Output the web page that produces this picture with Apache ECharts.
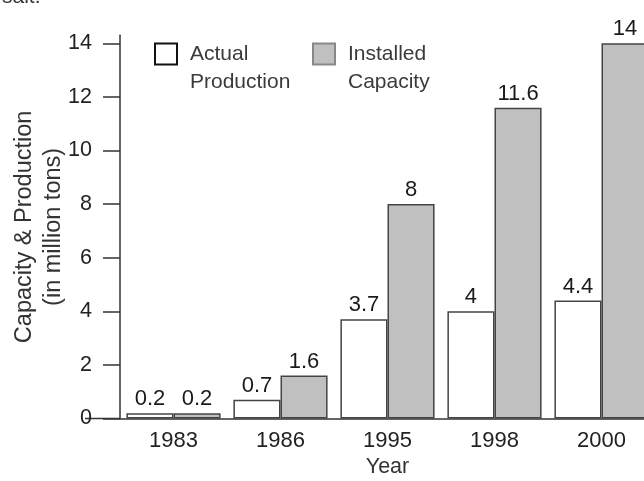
<!DOCTYPE html>
<html><head><meta charset="utf-8">
<script src="https://cdn.jsdelivr.net/npm/echarts@6/dist/echarts.min.js"></script>
<style>html,body{margin:0;padding:0;background:#fff}#c{width:644px;height:481px}</style>
</head><body><div id="c"></div>
<script>
const categories = ['1983', '1986', '1995', '1998', '2000'];
const actualProduction = [0.2, 0.7, 3.7, 4, 4.4];
const installedCapacity = [0.2, 1.6, 8, 11.6, 14];
const yTicks = [0, 2, 4, 6, 8, 10, 12, 14];
const seriesNames = ['Actual\nProduction', 'Installed\nCapacity'];

const font = '"Liberation Sans", Arial, sans-serif';
const gridLeft = 120;
const chart = echarts.init(document.getElementById('c'), null, {renderer: 'canvas'});
const legendText = {fontFamily: font, fontSize: 21, color: '#3a3a3a', lineHeight: 28, padding: [0, 0, 0, 8]};
const axisColor = '#333';
const labelStyle = {fontFamily: font, fontSize: 22, color: '#1a1a1a'};

const option = {
  animation: false,
  backgroundColor: '#fff',
  title: {text: 'salt.', left: -3, top: -18, textStyle: {fontFamily: font, fontSize: 21, fontWeight: 'normal', color: '#333'}},
  grid: {left: gridLeft, top: 35.3, width: 535, height: 383.2, outerBoundsMode: 'none', containLabel: false},
  legend: [
    {data: [{name: seriesNames[0], itemStyle: {color: '#fff', borderColor: '#111', borderWidth: 2}}],
     left: 154, top: 12, padding: 0, itemWidth: 22, itemHeight: 21, icon: 'rect', textStyle: legendText,
     formatter: n => '\n' + n, selectedMode: false},
    {data: [{name: seriesNames[1], itemStyle: {color: '#c0c0c0', borderColor: '#888', borderWidth: 2}}],
     left: 312, top: 12, padding: 0, itemWidth: 22, itemHeight: 21, icon: 'rect', textStyle: legendText,
     formatter: n => '\n' + n, selectedMode: false}
  ],
  xAxis: {
    type: 'category', data: categories,
    axisLine: {lineStyle: {color: axisColor, width: 1.5}},
    axisTick: {length: 17, lineStyle: {color: axisColor, width: 1.5}},
    axisLabel: {fontFamily: font, fontSize: 22, color: '#222', margin: 11},
    name: 'Year', nameLocation: 'middle', nameGap: 38, nameMoveOverlap: false,
    nameTextStyle: {fontFamily: font, fontSize: 21.5, color: '#333'}
  },
  yAxis: {
    type: 'value', min: 0, max: 14.3,
    axisLine: {show: true, lineStyle: {color: axisColor, width: 1.5}},
    axisTick: {show: true, length: 17, customValues: yTicks, lineStyle: {color: axisColor, width: 1.5}},
    axisLabel: {customValues: yTicks, margin: 28, fontFamily: font, fontSize: 21.5, color: '#222'},
    splitLine: {show: false},
    name: 'Capacity & Production\n(in million tons)', nameLocation: 'middle', nameRotate: 90, nameGap: 52,
    nameMoveOverlap: false,
    nameTextStyle: {fontFamily: font, fontSize: 23.5, color: '#333', lineHeight: 29}
  },
  series: [
    {name: seriesNames[0], type: 'bar', data: actualProduction, barWidth: '44%', barGap: '0%',
     itemStyle: {color: '#fff', borderColor: '#444', borderWidth: 1.5},
     label: {show: true, position: 'top', distance: 3, ...labelStyle}},
    {name: seriesNames[1], type: 'bar', data: installedCapacity, barWidth: '44%', barGap: '0%',
     itemStyle: {color: '#c0c0c0', borderColor: '#444', borderWidth: 1.5},
     label: {show: true, position: 'top', distance: 3, ...labelStyle}}
  ]
};
chart.setOption(option);
const y0 = chart.convertToPixel({yAxisIndex: 0}, 0);
chart.setOption({graphic: [{type: 'line', shape: {x1: gridLeft - 35, y1: y0, x2: gridLeft, y2: y0}, style: {stroke: axisColor, lineWidth: 1.5}}]});
</script></body></html>
